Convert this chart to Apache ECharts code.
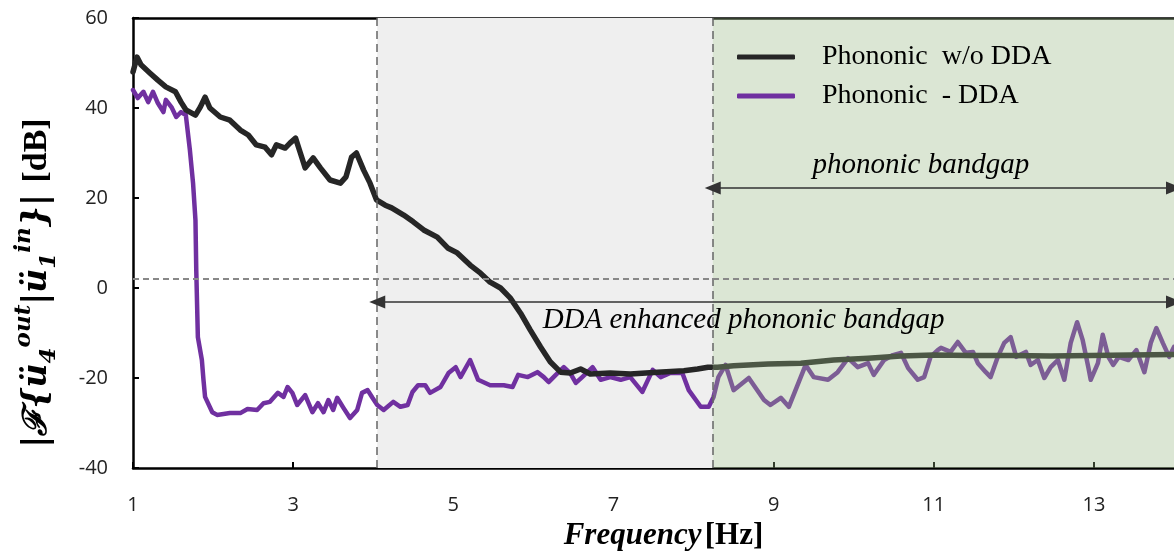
<!DOCTYPE html>
<html>
<head>
<meta charset="utf-8">
<script src="https://cdn.jsdelivr.net/npm/echarts@6/dist/echarts.min.js"></script>
<style>
  html, body { margin: 0; padding: 0; background: #fff; }
  #chart { width: 1174px; height: 554px; }
</style>
</head>
<body>
<div id="chart"></div>
<script>
// frequency [Hz] / magnitude [dB]
var freqNoDDA = [1.00, 1.05, 1.10, 1.21, 1.31, 1.41, 1.53, 1.60, 1.66, 1.78, 1.84, 1.90, 1.96, 2.09, 2.21, 2.34, 2.44, 2.54, 2.65, 2.73,
  2.79, 2.90, 2.96, 3.03, 3.09, 3.15, 3.25, 3.34, 3.46, 3.59, 3.66, 3.73, 3.79, 3.88, 3.96, 4.04, 4.15, 4.23, 4.38, 4.50,
  4.63, 4.80, 4.93, 5.05, 5.21, 5.34, 5.46, 5.59, 5.71, 5.84, 5.96, 6.09, 6.21, 6.34, 6.46, 6.59, 6.71, 6.96, 7.21, 7.55,
  7.88, 8.05, 8.18, 8.30, 8.50, 8.93, 9.34, 9.75, 10.18, 10.59, 11.00, 11.46, 11.96, 12.46, 12.96, 13.46, 14.00];
var dbNoDDA = [48, 51.3, 49.6, 47.8, 46.2, 44.7, 43.6, 41.3, 39.6, 38.4, 40.2, 42.4, 40, 38, 37.3, 35.1, 34, 31.8, 31.3, 29.6,
  31.8, 31.1, 32.2, 33.3, 30, 26.7, 28.9, 26.7, 24, 23.3, 24.7, 29.1, 30, 26.2, 23.3, 19.6, 18.4, 17.8, 16.2, 14.7,
  12.9, 11.3, 8.9, 7.8, 5.1, 3.3, 1.3, 0, -2.2, -5.6, -9.3, -13.1, -16.4, -18.7, -18.9, -18, -19.1, -18.9, -19.1, -18.7,
  -18.4, -18, -17.6, -17.6, -17.3, -16.9, -16.7, -16, -15.6, -15.1, -14.9, -15, -15, -15.1, -15, -14.9, -14.8];

var freqDDA = [1.00, 1.06, 1.13, 1.19, 1.25, 1.31, 1.38, 1.41, 1.48, 1.54, 1.60, 1.66, 1.71, 1.75, 1.78, 1.79, 1.81, 1.86, 1.88, 1.90,
  1.99, 2.05, 2.21, 2.34, 2.43, 2.55, 2.63, 2.71, 2.81, 2.88, 2.93, 2.99, 3.05, 3.15, 3.24, 3.31, 3.38, 3.44, 3.50, 3.55,
  3.63, 3.71, 3.80, 3.86, 3.93, 3.99, 4.05, 4.13, 4.25, 4.34, 4.43, 4.49, 4.56, 4.65, 4.71, 4.84, 4.94, 5.03, 5.09, 5.21,
  5.31, 5.46, 5.63, 5.74, 5.81, 5.93, 6.05, 6.13, 6.19, 6.28, 6.38, 6.46, 6.53, 6.61, 6.74, 6.84, 6.96, 7.09, 7.21, 7.36,
  7.49, 7.59, 7.71, 7.86, 7.94, 8.09, 8.19, 8.25, 8.31, 8.40, 8.50, 8.69, 8.88, 8.96, 9.09, 9.19, 9.31, 9.40, 9.50, 9.68,
  9.80, 9.93, 10.05, 10.18, 10.25, 10.38, 10.49, 10.59, 10.68, 10.80, 10.88, 10.96, 11.05, 11.09, 11.21, 11.30, 11.40, 11.49, 11.55, 11.65,
  11.71, 11.80, 11.88, 11.96, 12.03, 12.15, 12.21, 12.30, 12.38, 12.46, 12.55, 12.63, 12.71, 12.79, 12.86, 12.93, 12.96, 13.05, 13.11, 13.18,
  13.24, 13.31, 13.43, 13.53, 13.63, 13.71, 13.78, 13.86, 13.94, 14.00];
var dbDDA = [44, 42.2, 43.6, 41.3, 43.6, 41.1, 39.1, 41.8, 40.2, 38, 39.1, 38.4, 30.7, 23.3, 15.1, 4, -10.9, -16, -20.4, -24.2,
  -27.6, -28.2, -27.8, -27.8, -26.9, -27.1, -25.6, -25.3, -23.3, -24.2, -22, -23.3, -26, -23.8, -27.6, -25.6, -27.6, -24.9, -27.1, -24.4,
  -26.7, -28.9, -27.1, -23.3, -22.7, -24.4, -26, -27.1, -25.3, -26.4, -26, -23.1, -21.6, -21.6, -23.3, -22, -18.9, -17.6, -19.8, -16,
  -20.4, -21.6, -21.6, -22, -19.3, -19.8, -18.7, -19.8, -20.9, -19.3, -17.6, -18.9, -21.1, -19.8, -17.6, -20.4, -19.8, -20.4, -19.8, -23.1,
  -18.2, -19.8, -18.9, -18.9, -22.7, -26.4, -26.4, -24.2, -19.8, -17.1, -22.7, -20, -24.9, -26, -24.4, -26.4, -21.1, -17.1, -19.8, -20.4,
  -18.7, -15.6, -17.6, -16.7, -19.3, -16, -14.9, -14.4, -17.8, -20.4, -19.8, -15.3, -13.8, -13.3, -14.2, -12, -14.4, -14.2, -16.7, -18.7,
  -19.8, -15.3, -12.2, -10.9, -15.3, -14.2, -17.1, -16, -20, -17.6, -16, -20.4, -12.2, -7.6, -11.6, -17.6, -20.4, -16.7, -10.4, -15.3,
  -17.1, -15.3, -16, -13.8, -18.7, -12.2, -8.9, -12.2, -15.3, -13.1];

var seriesNames = ['Phononic  w/o DDA', 'Phononic  - DDA'];
var xTicks = [1, 3, 5, 7, 9, 11, 13];

// band limits [Hz] and reference level [dB]
var ddaBand = [4.05, 8.24];
var phononicBand = [8.24, 14];
var refLevel = 2;

function pairs(xs, ys) {
  return xs.map(function (x, i) { return [x, ys[i]]; });
}

var chart = echarts.init(document.getElementById('chart'));

var serif = 'Liberation Serif';
var mathFont = 'DejaVu Serif';
var option = {
  animation: false,
  grid: { left: 133, right: 0, top: 18, bottom: 86, containLabel: false, outerBoundsMode: 'none' },
  legend: {
    data: seriesNames,
    orient: 'vertical',
    left: 737,
    top: 43,
    z: 10,
    padding: 0,
    icon: 'roundRect',
    itemWidth: 58,
    itemHeight: 5,
    itemGap: 11,
    textStyle: { fontFamily: serif, fontSize: 28, color: '#000', padding: [0, 0, 0, 22] }
  },
  xAxis: [{
    type: 'value',
    min: 1,
    max: 14,
    interval: 2,
    splitLine: { show: false },
    axisLine: { onZero: false, lineStyle: { color: '#000', width: 2.5 } },
    axisTick: { inside: true, length: 6, lineStyle: { color: '#000', width: 2 } },
    axisLabel: {
      showMaxLabel: false,
      margin: 27,
      fontFamily: 'Open Sans',
      fontSize: 20,
      color: '#222',
      formatter: function (v) { return xTicks.indexOf(v) >= 0 ? String(v) : ''; }
    },
    name: '{a|Frequency} {b|[Hz]}',
    nameLocation: 'middle',
    nameGap: 52,
    nameTextStyle: {
      padding: [0, 0, 0, 20],
      rich: {
        a: { fontFamily: serif, fontStyle: 'italic', fontWeight: 'bold', fontSize: 31, color: '#000' },
        b: { fontFamily: serif, fontWeight: 'bold', fontSize: 31, color: '#000' }
      }
    }
  }, {
    type: 'value',
    position: 'top',
    min: 1,
    max: 14,
    axisLine: { show: true, onZero: false, lineStyle: { color: '#000', width: 2.5 } },
    axisTick: { show: false },
    axisLabel: { show: false },
    splitLine: { show: false }
  }],
  yAxis: {
    type: 'value',
    min: -40,
    max: 60,
    interval: 20,
    splitLine: { show: false },
    axisLine: { show: true, onZero: false, lineStyle: { color: '#000', width: 2.5 } },
    axisTick: { show: true, inside: true, length: 6, lineStyle: { color: '#000', width: 2 } },
    axisLabel: { margin: 25, fontFamily: 'Open Sans', fontSize: 20, color: '#222' },
    name: '{m||ℱ{ü}{sb|4}{sp|out}{m||ü}{sb|1}{sp|in}}| {u|[dB]}',
    nameLocation: 'middle',
    nameRotate: 90,
    nameGap: 72,
    nameTextStyle: {
      fontFamily: mathFont, fontStyle: 'italic', fontWeight: 'bold', fontSize: 33, color: '#000', lineHeight: 48,
      padding: [0, 80, 0, 0],
      rich: {
        m: { fontFamily: mathFont, fontStyle: 'italic', fontWeight: 'bold', fontSize: 33, color: '#000', lineHeight: 48, verticalAlign: 'middle' },
        u: { fontFamily: serif, fontStyle: 'normal', fontWeight: 'bold', fontSize: 34, color: '#000', lineHeight: 48, verticalAlign: 'middle' },
        sp: { fontFamily: mathFont, fontStyle: 'italic', fontWeight: 'bold', fontSize: 23, color: '#000', lineHeight: 48, verticalAlign: 'top' },
        sb: { fontFamily: mathFont, fontWeight: 'bold', fontSize: 23, color: '#000', lineHeight: 48, verticalAlign: 'bottom' }
      }
    }
  },
  series: [
    {
      // gray DDA band, behind the curves
      type: 'line',
      data: [],
      z: 1,
      silent: true,
      markArea: {
        silent: true,
        z: 1,
        itemStyle: { color: '#efefef' },
        data: [[{ xAxis: ddaBand[0] }, { xAxis: ddaBand[1] }]]
      }
    },
    {
      name: seriesNames[0],
      type: 'line',
      data: pairs(freqNoDDA, dbNoDDA),
      symbol: 'none',
      z: 3,
      color: '#262626',
      lineStyle: { color: '#262626', width: 5.5, join: 'round', cap: 'round' }
    },
    {
      name: seriesNames[1],
      type: 'line',
      data: pairs(freqDDA, dbDDA),
      symbol: 'none',
      z: 2,
      color: '#7030a0',
      lineStyle: { color: '#7030a0', width: 4.5, join: 'round', cap: 'round' }
    },
    {
      // translucent green phononic band over the curves
      type: 'line',
      data: [],
      z: 4,
      silent: true,
      markArea: {
        silent: true,
        z: 4,
        itemStyle: { color: 'rgba(150,182,128,0.34)' },
        data: [[{ xAxis: phononicBand[0] }, { xAxis: phononicBand[1] }]]
      }
    },
    {
      // guide lines and band arrows
      type: 'line',
      data: [],
      z: 5,
      silent: true,
      markLine: {
        silent: true,
        z: 5,
        symbol: 'none',
        animation: false,
        data: [
          { xAxis: ddaBand[0], lineStyle: { color: '#666', width: 1.5, type: [8, 5] }, label: { show: false } },
          { xAxis: ddaBand[1], lineStyle: { color: '#666', width: 1.5, type: [8, 5] }, label: { show: false } },
          { yAxis: refLevel, lineStyle: { color: '#888', width: 2, type: [6, 4] }, label: { show: false } },
          [
            { coord: [phononicBand[0], 22.2], symbol: 'triangle', symbolSize: [13, 16] },
            { coord: [phononicBand[1], 22.2], symbol: 'triangle', symbolSize: [13, 16],
              lineStyle: { color: '#333', width: 1.5, type: 'solid' },
              itemStyle: { color: '#333' },
              label: { show: true, position: 'insideMiddleTop', distance: 8, formatter: 'phononic bandgap',
                fontFamily: serif, fontStyle: 'italic', fontSize: 29, color: '#000', padding: [0, 45, 0, 0] } }
          ],
          [
            { coord: [ddaBand[0], -3.1], symbol: 'triangle', symbolSize: [13, 16] },
            { coord: [phononicBand[1], -3.1], symbol: 'triangle', symbolSize: [13, 16],
              lineStyle: { color: '#333', width: 1.5, type: 'solid' },
              itemStyle: { color: '#333' },
              label: { show: true, position: 'insideMiddleBottom', distance: 4, formatter: 'DDA enhanced phononic bandgap',
                fontFamily: serif, fontStyle: 'italic', fontSize: 29, color: '#000', padding: [0, 64, 0, 0] } }
          ]
        ]
      }
    }
  ]
};

chart.setOption(option);
</script>
</body>
</html>
